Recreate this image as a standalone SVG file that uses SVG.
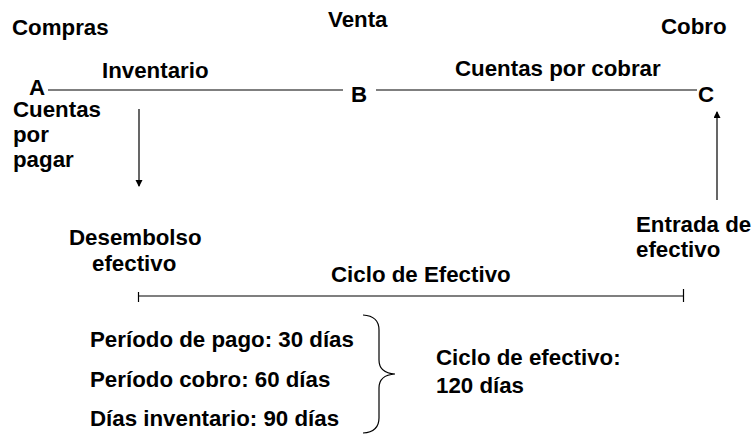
<svg xmlns="http://www.w3.org/2000/svg" width="754" height="435" viewBox="0 0 754 435">
<defs>
<style>
text{font-family:"Liberation Sans",Arial,sans-serif;font-weight:bold;font-size:22.3px;fill:#000}
.ln{stroke:#000;stroke-width:1.2;fill:none}
</style>
<marker id="ah" markerWidth="7" markerHeight="8" refX="6" refY="3.5" orient="auto" markerUnits="userSpaceOnUse">
<path d="M0,0 L7,3.5 L0,7 Z" fill="#000"/>
</marker>
</defs>
<rect width="754" height="435" fill="#fff"/>
<g id="labels-top">
<text x="12" y="35">Compras</text>
<text x="328" y="27">Venta</text>
<text x="661" y="34">Cobro</text>
</g>
<g id="nodeA"><text x="29" y="95">A</text></g>
<g id="nodeB"><text x="351" y="102">B</text></g>
<g id="nodeC"><text x="698" y="102">C</text></g>
<g id="inventario"><text x="102" y="78">Inventario</text></g>
<g id="cuentas-cobrar"><text x="455" y="76">Cuentas por cobrar</text></g>
<g id="cuentas-pagar">
<text x="13" y="117">Cuentas</text>
<text x="13" y="142">por</text>
<text x="13" y="167">pagar</text>
</g>
<g id="desembolso">
<text x="69" y="245">Desembolso</text>
<text x="92" y="271">efectivo</text>
</g>
<g id="entrada">
<text x="636" y="232">Entrada de</text>
<text x="636" y="257">efectivo</text>
</g>
<g id="ciclo-label"><text x="331" y="282">Ciclo de Efectivo</text></g>
<g id="periodos">
<text x="90" y="347">Período de pago: 30 días</text>
<text x="90" y="387">Período cobro: 60 días</text>
<text x="90" y="426">Días inventario: 90 días</text>
</g>
<g id="resultado">
<text x="436" y="365">Ciclo de efectivo:</text>
<text x="436" y="393">120 días</text>
</g>
<g id="connectors">
<line class="ln" x1="48" y1="90" x2="343" y2="90"/>
<line class="ln" x1="376" y1="90" x2="697" y2="90"/>
<line class="ln" x1="139" y1="109" x2="139" y2="186" marker-end="url(#ah)"/>
<line class="ln" x1="717" y1="200" x2="717" y2="112" marker-end="url(#ah)"/>
<line class="ln" x1="138.5" y1="296" x2="683.5" y2="296"/>
<line class="ln" x1="138.5" y1="292" x2="138.5" y2="302"/>
<line class="ln" x1="683.5" y1="289" x2="683.5" y2="302"/>
<path class="ln" d="M363,315 Q379,316 379,330 L379,360 Q379,373 395,374 Q379,375 379,388 L379,418 Q379,432 363,433"/>
</g>
</svg>
